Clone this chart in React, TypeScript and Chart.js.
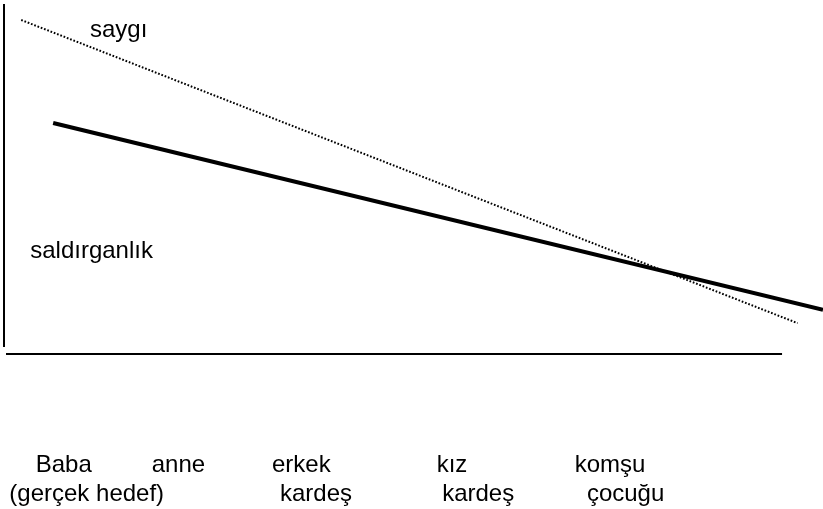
import React, { useEffect, useRef } from "react";
import { Chart, registerables } from "chart.js";

Chart.register(...registerables);

// Series (x: horizontal position along the target scale 0–100, y: intensity 0–100)
const SAYGI_X = [2.1, 96.9];
const SAYGI_Y = [95.6, 6.7];
const SALDIRGANLIK_X = [6.0, 100];
const SALDIRGANLIK_Y = [65.4, 10.6];

// Category labels (two text rows)
const ROW1_LABELS = ["Baba", "anne", "erkek", "kız", "komşu"];
const ROW2_LABELS = ["(gerçek hedef)", "kardeş", "kardeş", "çocuğu"];
const ROW1_AT = [7.3, 21.3, 36.3, 54.7, 74.0];
const ROW2_AT = [10.1, 38.1, 57.9, 75.9];

// Series names written on the plot
const SERIES_NAMES = ["saygı", "saldırganlık"];
const NAME_X = [10.5, 3.2];
const NAME_Y = [90.6, 25.8];
const BASELINE_END = 95;

const FONT_FAMILY = '"Liberation Sans", Arial, Helvetica, sans-serif';

const decoPlugin = {
  id: "deco",
  afterDatasetsDraw(chart: any) {
    const { ctx, chartArea, scales } = chart;
    ctx.save();
    ctx.strokeStyle = "#000";
    ctx.lineWidth = 2;
    const y = Math.round(chartArea.bottom) + 8;
    ctx.beginPath();
    ctx.moveTo(chartArea.left + 2, y);
    ctx.lineTo(scales.x.getPixelForValue(BASELINE_END), y);
    ctx.stroke();
    ctx.font = `24px ${FONT_FAMILY}`;
    ctx.fillStyle = "#000";
    ctx.textBaseline = "alphabetic";
    ctx.textAlign = "left";
    SERIES_NAMES.forEach((n, i) => {
      ctx.fillText(n, scales.x.getPixelForValue(NAME_X[i]), scales.y.getPixelForValue(NAME_Y[i]));
    });
    ctx.restore();
  },
};

const fitTo = (h: number) => (s: any) => {
  s.height = h;
  s.paddingLeft = 0;
  s.paddingRight = 0;
  s.paddingTop = 0;
  s.paddingBottom = 0;
};

export default function App() {
  const ref = useRef<HTMLCanvasElement | null>(null);

  useEffect(() => {
    if (!ref.current) return;
    Chart.defaults.font.family = FONT_FAMILY;
    const chart = new Chart(ref.current, {
      type: "line",
      data: {
        datasets: [
          {
            label: SERIES_NAMES[0],
            data: SAYGI_X.map((x, i) => ({ x, y: SAYGI_Y[i] })),
            borderColor: "#000",
            borderWidth: 2,
            borderDash: [1.7, 1.8],
            borderCapStyle: "butt",
            pointRadius: 0,
            fill: false,
          },
          {
            label: SERIES_NAMES[1],
            data: SALDIRGANLIK_X.map((x, i) => ({ x, y: SALDIRGANLIK_Y[i] })),
            borderColor: "#000",
            borderWidth: 4,
            pointRadius: 0,
            fill: false,
          },
        ],
      },
      options: {
        animation: false,
        responsive: false,
        maintainAspectRatio: false,
        layout: { padding: { left: 4, top: 5, right: 0, bottom: 0 } },
        plugins: { legend: { display: false }, tooltip: { enabled: false } },
        scales: {
          x: {
            type: "linear",
            position: "bottom",
            min: 0,
            max: 100,
            offset: false,
            grid: { display: false, drawTicks: false },
            border: { display: false },
            afterBuildTicks: (s: any) => {
              s.ticks = ROW1_AT.map((v) => ({ value: v }));
            },
            afterFit: fitTo(134),
            ticks: {
              autoSkip: false,
              maxRotation: 0,
              minRotation: 0,
              padding: 105,
              color: "#000",
              font: { size: 24 },
              callback: (_v: any, i: number) => ROW1_LABELS[i],
            },
          },
          x2: {
            type: "linear",
            position: "bottom",
            min: 0,
            max: 100,
            offset: false,
            grid: { display: false, drawTicks: false },
            border: { display: false },
            afterBuildTicks: (s: any) => {
              s.ticks = ROW2_AT.map((v) => ({ value: v }));
            },
            afterFit: fitTo(29),
            ticks: {
              autoSkip: false,
              maxRotation: 0,
              minRotation: 0,
              padding: 0,
              color: "#000",
              font: { size: 24 },
              callback: (_v: any, i: number) => ROW2_LABELS[i],
            },
          },
          y: {
            type: "linear",
            min: 0,
            max: 100,
            grid: { display: false, drawTicks: false },
            border: { display: true, color: "#000", width: 2 },
            ticks: { display: false },
          },
        },
      },
      plugins: [decoPlugin],
    });
    return () => chart.destroy();
  }, []);

  return (
    <div style={{ position: "absolute", left: 0, top: 0, width: 823, height: 509, background: "#fff" }}>
      <canvas ref={ref} width={823} height={509} style={{ display: "block" }} />
    </div>
  );
}
